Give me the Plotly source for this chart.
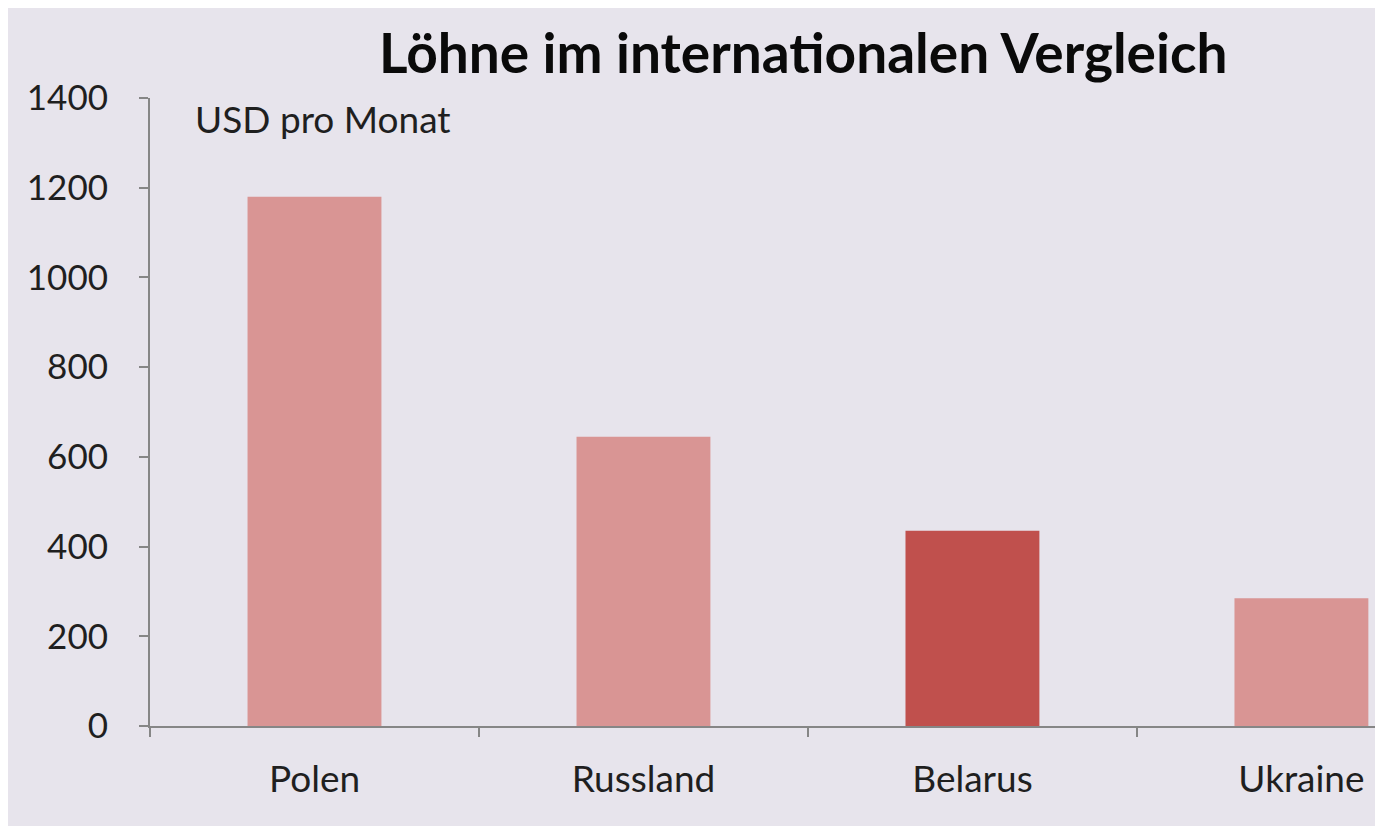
import plotly.graph_objects as go

categories = ["Polen", "Russland", "Belarus", "Ukraine"]
wages = [1180, 645, 435, 285]
bar_colors = ["#D99594", "#D99594", "#C0504D", "#D99594"]
y_ticks = [0, 200, 400, 600, 800, 1000, 1200, 1400]

FONT = "Lato, 'Open Sans', sans-serif"
BG = "#E7E4EC"
AXIS = "#868686"

fig = go.Figure()
fig.add_trace(go.Bar(
    x=categories, y=wages,
    marker=dict(color=bar_colors, line=dict(width=0)),
    width=0.407,
))

fig.update_layout(
    width=1383, height=826,
    margin=dict(l=142, r=8, t=90, b=108, pad=0),
    paper_bgcolor=BG,
    plot_bgcolor=BG,
    showlegend=False,
    font=dict(family=FONT, color="#1F1F1F"),
    annotations=[
        dict(text="<b>Löhne im internationalen Vergleich</b>", xref="paper", yref="paper",
             x=(803-150)/1233, y=1 + (98-52)/628, xanchor="center", yanchor="middle",
             showarrow=False, font=dict(size=55, color="#0A0A0A", family=FONT)),
        dict(text="USD pro Monat", xref="paper", yref="paper",
             x=(193-150)/1233, y=1 - (118-98)/628, xanchor="left", yanchor="middle",
             showarrow=False, font=dict(size=37, color="#1F1F1F", family=FONT)),
    ],
)

fig.update_xaxes(
    type="category", range=[-0.5, 3.248],
    showgrid=False, zeroline=False,
    showline=True, linecolor=AXIS, linewidth=2,
    ticks="outside", tickson="boundaries", ticklen=9, tickcolor=AXIS, tickwidth=2,
    tickfont=dict(size=37, color="#1F1F1F", family=FONT),
    ticklabelstandoff=20,
)
fig.update_yaxes(
    range=[0, 1400], tickvals=y_ticks,
    showgrid=False, zeroline=False,
    showline=True, linecolor=AXIS, linewidth=2,
    ticks="outside", ticklen=9, tickcolor=AXIS, tickwidth=2,
    tickfont=dict(size=35, color="#1F1F1F", family=FONT),
    ticklabelstandoff=24,
)

fig.write_html("out.html")
